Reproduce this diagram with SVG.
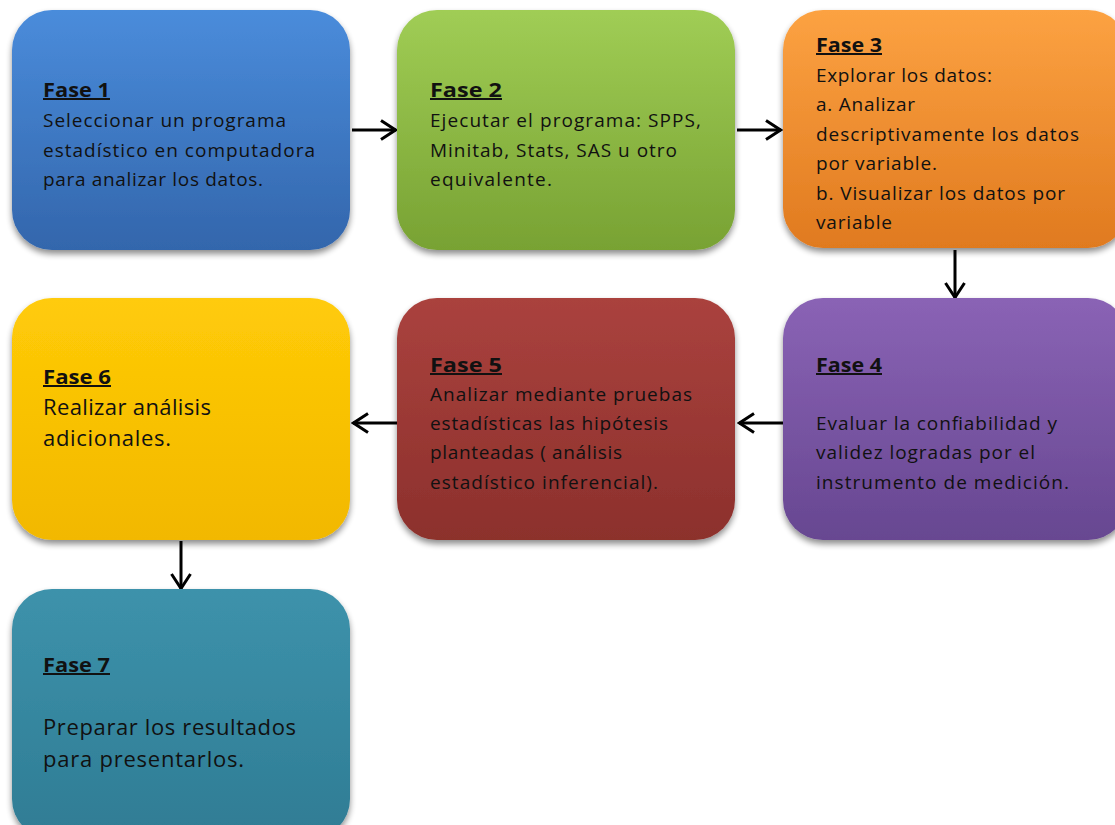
<svg xmlns="http://www.w3.org/2000/svg" width="1115" height="825" viewBox="0 0 1115 825">
  <defs>
    <filter id="shadow" x="-10%" y="-10%" width="120%" height="125%">
      <feGaussianBlur in="SourceAlpha" stdDeviation="3"/>
      <feOffset dx="0" dy="4"/>
      <feComponentTransfer><feFuncA type="linear" slope="0.45"/></feComponentTransfer>
      <feMerge><feMergeNode/><feMergeNode in="SourceGraphic"/></feMerge>
    </filter>
    <linearGradient id="gBlue" x1="0" y1="0" x2="0" y2="1">
      <stop offset="0" stop-color="#4a8cdb"/><stop offset="1" stop-color="#3366ac"/>
    </linearGradient>
    <linearGradient id="gGreen" x1="0" y1="0" x2="0" y2="1">
      <stop offset="0" stop-color="#a0cd55"/><stop offset="1" stop-color="#78a233"/>
    </linearGradient>
    <linearGradient id="gOrange" x1="0" y1="0" x2="0" y2="1">
      <stop offset="0" stop-color="#fca242"/><stop offset="1" stop-color="#e07a1f"/>
    </linearGradient>
    <linearGradient id="gPurple" x1="0" y1="0" x2="0" y2="1">
      <stop offset="0" stop-color="#8a63b5"/><stop offset="1" stop-color="#674791"/>
    </linearGradient>
    <linearGradient id="gRed" x1="0" y1="0" x2="0" y2="1">
      <stop offset="0" stop-color="#aa423e"/><stop offset="1" stop-color="#8c302c"/>
    </linearGradient>
    <linearGradient id="gYellow" x1="0" y1="0" x2="0" y2="1">
      <stop offset="0" stop-color="#ffcb08"/><stop offset="1" stop-color="#f2b800"/>
    </linearGradient>
    <linearGradient id="gTeal" x1="0" y1="0" x2="0" y2="1">
      <stop offset="0" stop-color="#3d92ab"/><stop offset="1" stop-color="#2f7c94"/>
    </linearGradient>
    <marker id="arrow" viewBox="0 0 20 22" refX="18" refY="11" markerWidth="20" markerHeight="22" markerUnits="userSpaceOnUse" orient="auto">
      <path d="M3,1.5 L17.5,11 L3,20.5" fill="none" stroke="#000" stroke-width="3"/>
    </marker>
  </defs>
  <style>
    .box { filter: url(#shadow); }
    .t { font-family: "Open Sans", "Liberation Sans", sans-serif; font-size: 19px; fill: #111; }
    .big { font-size: 22px; }
    .h { font-family: "Open Sans", "Liberation Sans", sans-serif; font-size: 20px; font-weight: bold; text-decoration: underline; fill: #111; }
    .conn { fill: none; stroke: #000; stroke-width: 3; marker-end: url(#arrow); }
  </style>
  <rect width="1115" height="825" fill="#fff"/>

  <!-- connectors -->
  <g id="connectors">
    <path class="conn" d="M352,130 H396"/>
    <path class="conn" d="M737,130 H781"/>
    <path class="conn" d="M955,250 V298"/>
    <path class="conn" d="M783,423 H739"/>
    <path class="conn" d="M397,423 H353"/>
    <path class="conn" d="M181,541 V589"/>
  </g>

  <g id="fase1">
    <rect class="box" x="12" y="10" width="338" height="240" rx="40" fill="url(#gBlue)"/>
    <text class="h" x="43" y="97" textLength="67" lengthAdjust="spacingAndGlyphs">Fase 1</text>
    <text class="t" x="43" y="127" textLength="243" lengthAdjust="spacing">Seleccionar un programa</text>
    <text class="t" x="43" y="157" textLength="272" lengthAdjust="spacing">estadístico en computadora</text>
    <text class="t" x="43" y="186" textLength="220" lengthAdjust="spacing">para analizar  los datos.</text>
  </g>

  <g id="fase2">
    <rect class="box" x="397" y="10" width="338" height="240" rx="40" fill="url(#gGreen)"/>
    <text class="h" x="430" y="97" textLength="72" lengthAdjust="spacingAndGlyphs">Fase  2</text>
    <text class="t" x="430" y="127" textLength="271" lengthAdjust="spacing">Ejecutar el programa:  SPPS,</text>
    <text class="t" x="430" y="157" textLength="247" lengthAdjust="spacing">Minitab, Stats,  SAS u otro</text>
    <text class="t" x="430" y="186" textLength="122" lengthAdjust="spacing">equivalente.</text>
  </g>

  <g id="fase3">
    <rect class="box" x="783" y="10" width="345" height="238" rx="40" fill="url(#gOrange)"/>
    <text class="h" x="816" y="52" textLength="66" lengthAdjust="spacingAndGlyphs">Fase 3</text>
    <text class="t" x="816" y="82" textLength="176" lengthAdjust="spacing">Explorar los datos:</text>
    <text class="t" x="816" y="111" textLength="99" lengthAdjust="spacing">a. Analizar</text>
    <text class="t" x="816" y="141" textLength="263" lengthAdjust="spacing">descriptivamente los datos</text>
    <text class="t" x="816" y="170" textLength="121" lengthAdjust="spacing">por variable.</text>
    <text class="t" x="816" y="200" textLength="249" lengthAdjust="spacing">b. Visualizar  los datos por</text>
    <text class="t" x="816" y="229" textLength="76" lengthAdjust="spacing">variable</text>
  </g>

  <g id="fase4">
    <rect class="box" x="783" y="298" width="345" height="242" rx="40" fill="url(#gPurple)"/>
    <text class="h" x="816" y="372" textLength="66" lengthAdjust="spacingAndGlyphs">Fase 4</text>
    <text class="t" x="816" y="430" textLength="241" lengthAdjust="spacing">Evaluar la confiabilidad y</text>
    <text class="t" x="816" y="459" textLength="219" lengthAdjust="spacing">validez logradas por el</text>
    <text class="t" x="816" y="489" textLength="253" lengthAdjust="spacing">instrumento de medición.</text>
  </g>

  <g id="fase5">
    <rect class="box" x="397" y="298" width="338" height="242" rx="40" fill="url(#gRed)"/>
    <text class="h" x="430" y="372" textLength="72" lengthAdjust="spacingAndGlyphs">Fase  5</text>
    <text class="t" x="430" y="401" textLength="262" lengthAdjust="spacing">Analizar mediante  pruebas</text>
    <text class="t" x="430" y="430" textLength="238" lengthAdjust="spacing">estadísticas las hipótesis</text>
    <text class="t" x="430" y="459" textLength="192" lengthAdjust="spacing">planteadas ( análisis</text>
    <text class="t" x="430" y="489" textLength="228" lengthAdjust="spacing">estadístico inferencial).</text>
  </g>

  <g id="fase6">
    <rect class="box" x="12" y="298" width="338" height="242" rx="40" fill="url(#gYellow)"/>
    <text class="h" x="43" y="384" textLength="68" lengthAdjust="spacingAndGlyphs">Fase 6</text>
    <text class="t big" x="43" y="415" textLength="168" lengthAdjust="spacing">Realizar análisis</text>
    <text class="t big" x="43" y="446" textLength="128" lengthAdjust="spacing">adicionales.</text>
  </g>

  <g id="fase7">
    <rect class="box" x="12" y="589" width="338" height="250" rx="40" fill="url(#gTeal)"/>
    <text class="h" x="43" y="672" textLength="67" lengthAdjust="spacingAndGlyphs">Fase 7</text>
    <text class="t big" x="43" y="735" textLength="253" lengthAdjust="spacing">Preparar los resultados</text>
    <text class="t big" x="43" y="767" textLength="201" lengthAdjust="spacing">para presentarlos.</text>
  </g>
</svg>
